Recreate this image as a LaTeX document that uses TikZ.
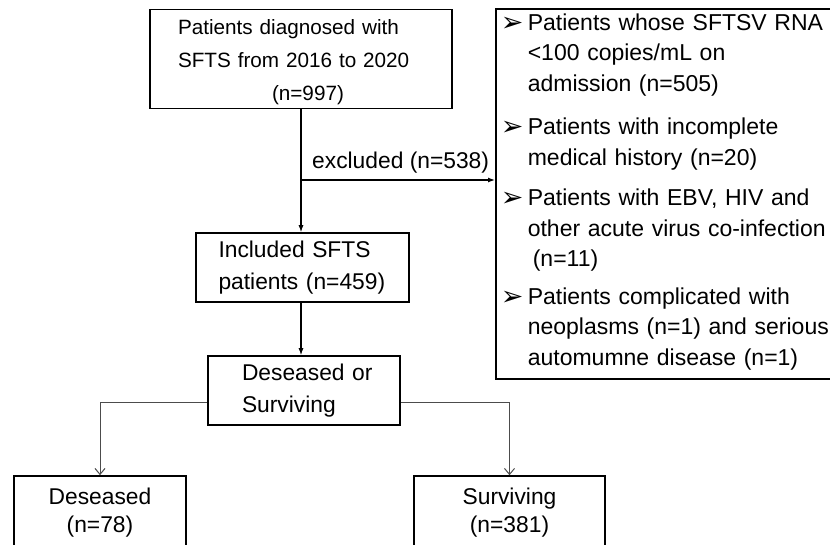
\documentclass[tikz,border=0pt]{standalone}
\usepackage{fontspec}
\setmainfont{Liberation Sans}
\newfontfamily\symfont{DejaVu Sans}
\usetikzlibrary{arrows.meta}
\newcommand{\bul}{\makebox[27pt][l]{\smash{\raisebox{-1pt}{\symfont\fontsize{27}{27}\selectfont ➢}}}}
\newcommand{\ind}{\hspace*{27pt}}
\tikzset{
  box/.style={draw, line width=1.6pt, inner sep=0pt},
  big/.style={font=\fontsize{22.8}{32}\selectfont},
  arr/.style={line width=1.2pt, -{Latex[length=7pt,width=5pt]}},
  arrtwo/.style={line width=1pt, draw=black!70, -{Straight Barb[length=6pt,width=10pt,line width=1pt]}},
}
\begin{document}
\begin{tikzpicture}[x=1pt,y=-1pt]
\useasboundingbox (0,0) rectangle (830,544);
\node[box, font=\fontsize{20.7}{33}\selectfont, minimum width=302pt, minimum height=99pt, text width=246pt, align=left] (p) at (301,59)
  {\rule{0pt}{21pt}Patients diagnosed with\\SFTS from 2016 to 2020\\\hspace*{94pt}(n=997)};
\node[box, anchor=north west, minimum width=350pt, minimum height=370pt, inner xsep=5pt, text width=340pt, align=left,
      font=\fontsize{23}{30.5}\selectfont] (ex) at (495,8)
  {\bul Patients whose SFTSV RNA\\\ind <100 copies/mL on\\\ind admission (n=505)\\[13pt]
   \bul Patients with incomplete\\\ind medical history (n=20)\\[10pt]
   \bul Patients with EBV, HIV and\\\ind other acute virus co-infection\\\ind\hspace*{5pt}(n=11)\\[7pt]
   \bul Patients complicated with\\\ind neoplasms (n=1) and serious\\\ind automumne disease (n=1)\rule[-9pt]{0pt}{9pt}};
\node[box, big, minimum width=213pt, minimum height=69pt, text width=168pt, align=left] (inc) at (302.5,267.5)
  {\mbox{Included SFTS}\\\mbox{patients (n=459)}};
\node[box, big, minimum width=192pt, minimum height=69pt, text width=124pt, align=left] (dos) at (304,390.5)
  {\mbox{Deseased or}\\\mbox{Surviving}};
\node[box, font=\fontsize{22.8}{28}\selectfont, minimum width=172pt, minimum height=74pt, align=center] (des) at (100,513)
  {Deseased\\(n=78)};
\node[box, font=\fontsize{22.8}{28}\selectfont, minimum width=191pt, minimum height=74pt, align=center] (sur) at (509.5,513)
  {Surviving\\(n=381)};
\coordinate (j) at (301,180);
\node[big, anchor=base west, inner sep=0pt] (exl) at (312,168) {excluded (n=538)};
\draw[line width=1.2pt] (p.south -| j) -- (j);
\draw[arr] (j) -- (j |- inc.north);
\draw[arr] (j) -- (j -| ex.west);
\draw[arr] (inc.south -| j) -- (dos.north -| j);
\draw[arrtwo] ([yshift=-11.5pt]dos.west) -| (des.north);
\draw[arrtwo] ([yshift=-11.5pt]dos.east) -| (sur.north);
\end{tikzpicture}
\end{document}
